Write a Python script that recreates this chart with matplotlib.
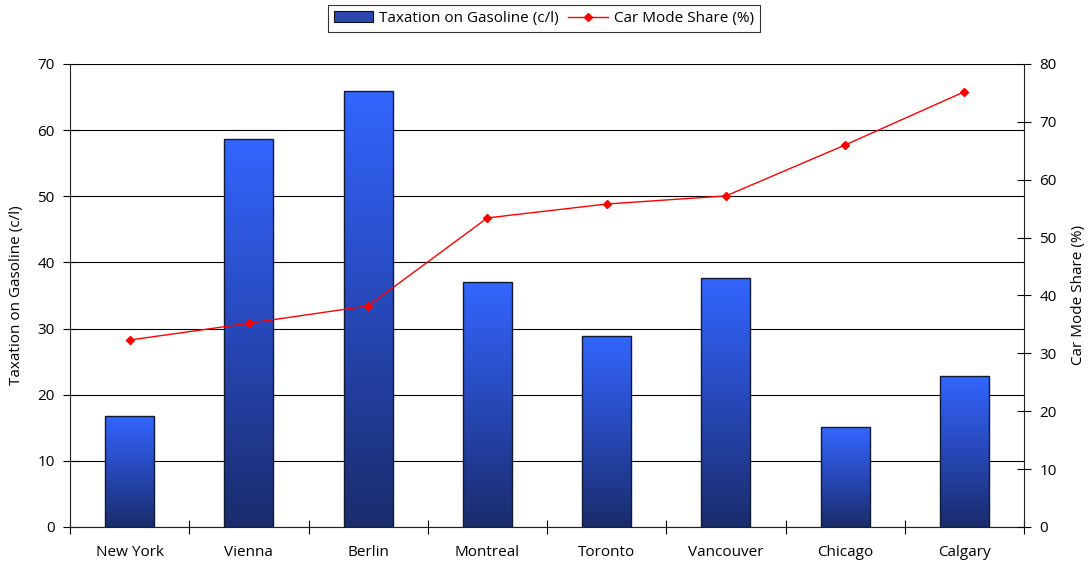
import numpy as np
import matplotlib.pyplot as plt
from matplotlib.colors import LinearSegmentedColormap
from matplotlib.patches import Patch
from matplotlib.lines import Line2D

plt.rcParams['font.family'] = ['Open Sans', 'DejaVu Sans']

cities = ["New York", "Vienna", "Berlin", "Montreal", "Toronto",
          "Vancouver", "Chicago", "Calgary"]
gas_tax = [16.8, 58.6, 65.9, 37.1, 28.9, 37.6, 15.1, 22.9]       # c/l
car_share = [32.3, 35.2, 38.2, 53.4, 55.8, 57.2, 66.0, 75.2]     # %

fs = 11

fig = plt.figure(figsize=(10.91, 5.71), dpi=100)
ax = fig.add_axes([0.0642, 0.0771, 0.8744, 0.8109])
ax2 = ax.twinx()

x = np.arange(len(cities))
bw = 0.41

# gradient fill for each bar (bright top -> dark bottom)
cmap = LinearSegmentedColormap.from_list(
    "blu", [(0.0, "#1a2c6c"), (0.5, "#2748b8"), (1.0, "#3366ff")])
grad = np.linspace(0, 1, 256).reshape(-1, 1)
bars = ax.bar(x, gas_tax, width=bw, color="none", edgecolor="#111a33",
              linewidth=1.0, zorder=3)
for b in bars:
    x0, y0 = b.get_x(), b.get_y()
    im = ax.imshow(grad, cmap=cmap, origin="lower", aspect="auto",
                   extent=[x0, x0 + b.get_width(), y0, y0 + b.get_height()],
                   zorder=2)
    im.set_clip_path(b)

ax.set_xlim(-0.5, len(cities) - 0.5)
ax.set_ylim(0, 70)
ax.set_yticks(np.arange(0, 71, 10))
ax.yaxis.grid(True, color="black", linewidth=0.8)
ax.set_axisbelow(True)

# category ticks at boundaries, labels at centres
ax.set_xticks(np.arange(-0.5, len(cities), 1.0))
ax.set_xticklabels([])
ax.set_xticks(x, minor=True)
ax.set_xticklabels(cities, minor=True)
ax.tick_params(axis="x", which="minor", length=0, pad=13, labelsize=fs)
ax.tick_params(axis="x", which="major", direction="inout", length=10, width=0.8)
ax.tick_params(axis="y", direction="inout", length=10, width=0.8, labelsize=fs,
               pad=6)

ax2.plot(x, car_share, color="#ff0000", linewidth=1.0, marker="D",
         markersize=4.5, zorder=4)
ax2.set_ylim(0, 80)
ax2.set_yticks(np.arange(0, 81, 10))
ax2.tick_params(axis="y", direction="inout", length=10, width=0.8, labelsize=fs,
                pad=6)

for a in (ax, ax2):
    a.spines["top"].set_visible(False)
    for s in ("left", "right", "bottom"):
        a.spines[s].set_color("#222222")
        a.spines[s].set_linewidth(0.8)
ax.spines["right"].set_visible(False)
ax2.spines["left"].set_visible(False)
ax2.spines["bottom"].set_visible(False)

ax.set_ylabel("Taxation on Gasoline (c/l)", fontsize=fs, labelpad=10)
ax2.set_ylabel("Car Mode Share (%)", fontsize=fs, labelpad=10)

handles = [Patch(facecolor="#2a48b0", edgecolor="#111111", linewidth=0.8),
           Line2D([], [], color="#ff0000", linewidth=1.0, marker="D", markersize=4.5)]
leg = fig.legend(handles, ["Taxation on Gasoline (c/l)", "Car Mode Share (%)"],
                 loc="upper center", bbox_to_anchor=(0.4985, 1.005), ncol=2,
                 fontsize=fs, frameon=True, fancybox=False, edgecolor="black",
                 handlelength=2.6, handletextpad=0.4, columnspacing=0.6,
                 borderpad=0.4)
leg.get_frame().set_linewidth(0.8)

fig.savefig("out.png", dpi=100)
